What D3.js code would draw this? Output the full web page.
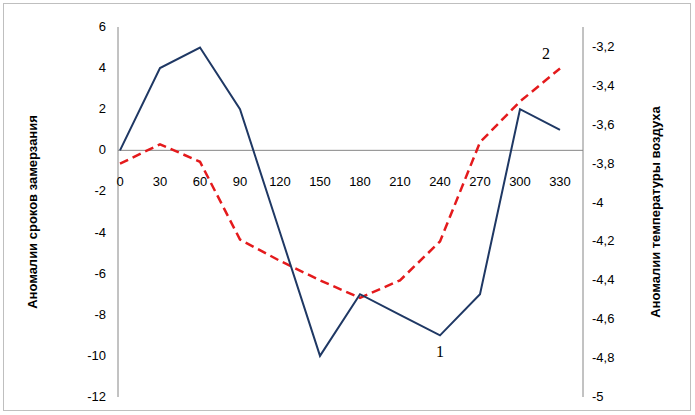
<!DOCTYPE html>
<html><head><meta charset="utf-8">
<script src="https://cdn.jsdelivr.net/npm/d3@7"></script>
<style>body{margin:0;background:#fff}</style>
</head><body><svg id="main" width="695" height="415"></svg>
<script>
const categories = [0, 30, 60, 90, 120, 150, 180, 210, 240, 270, 300, 330];
const freezeAnomaly = [0, 4, 5, 2, -4, -10, -7, -8, -9, -7, 2, 1];
const tempAnomaly = [-3.8, -3.7, -3.79, -4.19, -4.3, -4.4, -4.49, -4.4, -4.2, -3.69, -3.48, -3.31];
const leftTicks = [6, 4, 2, 0, -2, -4, -6, -8, -10, -12];
const rightTicks = [-3.2, -3.4, -3.6, -3.8, -4, -4.2, -4.4, -4.6, -4.8, -5];

const svg = d3.select("#main");
const font = "Liberation Sans, Arial, sans-serif";
svg.append("rect").attr("x", 3.5).attr("y", 3.5).attr("width", 687).attr("height", 407)
    .attr("fill", "none").attr("stroke", "#bfbfbf");

const x = d3.scalePoint(categories, [120, 560]);
const yL = d3.scaleLinear([-12, 6], [397, 27]);
const yR = d3.scaleLinear([-5, -3.1], [397, 27.6]);
const fmt = d => String(d).replace(".", ",");

// left axis
svg.append("line").attr("x1", 118).attr("x2", 118).attr("y1", 27).attr("y2", 397).attr("stroke", "#868686");
svg.append("g").selectAll("text").data(leftTicks).join("text")
    .attr("x", 106).attr("y", d => yL(d) + 4).attr("text-anchor", "end")
    .attr("font-family", font).attr("font-size", 13).text(d => d);
// right axis
svg.append("line").attr("x1", 583).attr("x2", 583).attr("y1", 27).attr("y2", 397).attr("stroke", "#868686");
svg.append("g").selectAll("text").data(rightTicks).join("text")
    .attr("x", 592).attr("y", d => yR(d) + 4)
    .attr("font-family", font).attr("font-size", 13).text(fmt);
// zero line
svg.append("line").attr("x1", 118).attr("x2", 583).attr("y1", yL(0)).attr("y2", yL(0)).attr("stroke", "#868686");
svg.append("g").selectAll("text").data(categories).join("text")
    .attr("x", d => x(d)).attr("y", yL(0) + 36).attr("text-anchor", "middle")
    .attr("font-family", font).attr("font-size", 13).text(d => d);

// titles
svg.append("text").attr("transform", "translate(37,212) rotate(-90)").attr("text-anchor", "middle")
    .attr("font-family", font).attr("font-size", 13).attr("font-weight", "bold")
    .text("Аномалии сроков  замерзания");
svg.append("text").attr("transform", "translate(660,212) rotate(-90)").attr("text-anchor", "middle")
    .attr("font-family", font).attr("font-size", 13).attr("font-weight", "bold")
    .text("Аномалии температуры  воздуха");

// series
svg.append("path").datum(tempAnomaly)
    .attr("d", d3.line().x((d, i) => x(categories[i])).y(d => yR(d)))
    .attr("fill", "none").attr("stroke", "#e41a1c").attr("stroke-width", 2.5).attr("stroke-dasharray", "9,5");
svg.append("path").datum(freezeAnomaly)
    .attr("d", d3.line().x((d, i) => x(categories[i])).y(d => yL(d)))
    .attr("fill", "none").attr("stroke", "#1f3864").attr("stroke-width", 2);

svg.append("text").attr("x", 440).attr("y", 357).attr("text-anchor", "middle")
    .attr("font-family", "Liberation Serif, serif").attr("font-size", 16).text("1");
svg.append("text").attr("x", 546).attr("y", 59).attr("text-anchor", "middle")
    .attr("font-family", "Liberation Serif, serif").attr("font-size", 16).text("2");
</script></body></html>
